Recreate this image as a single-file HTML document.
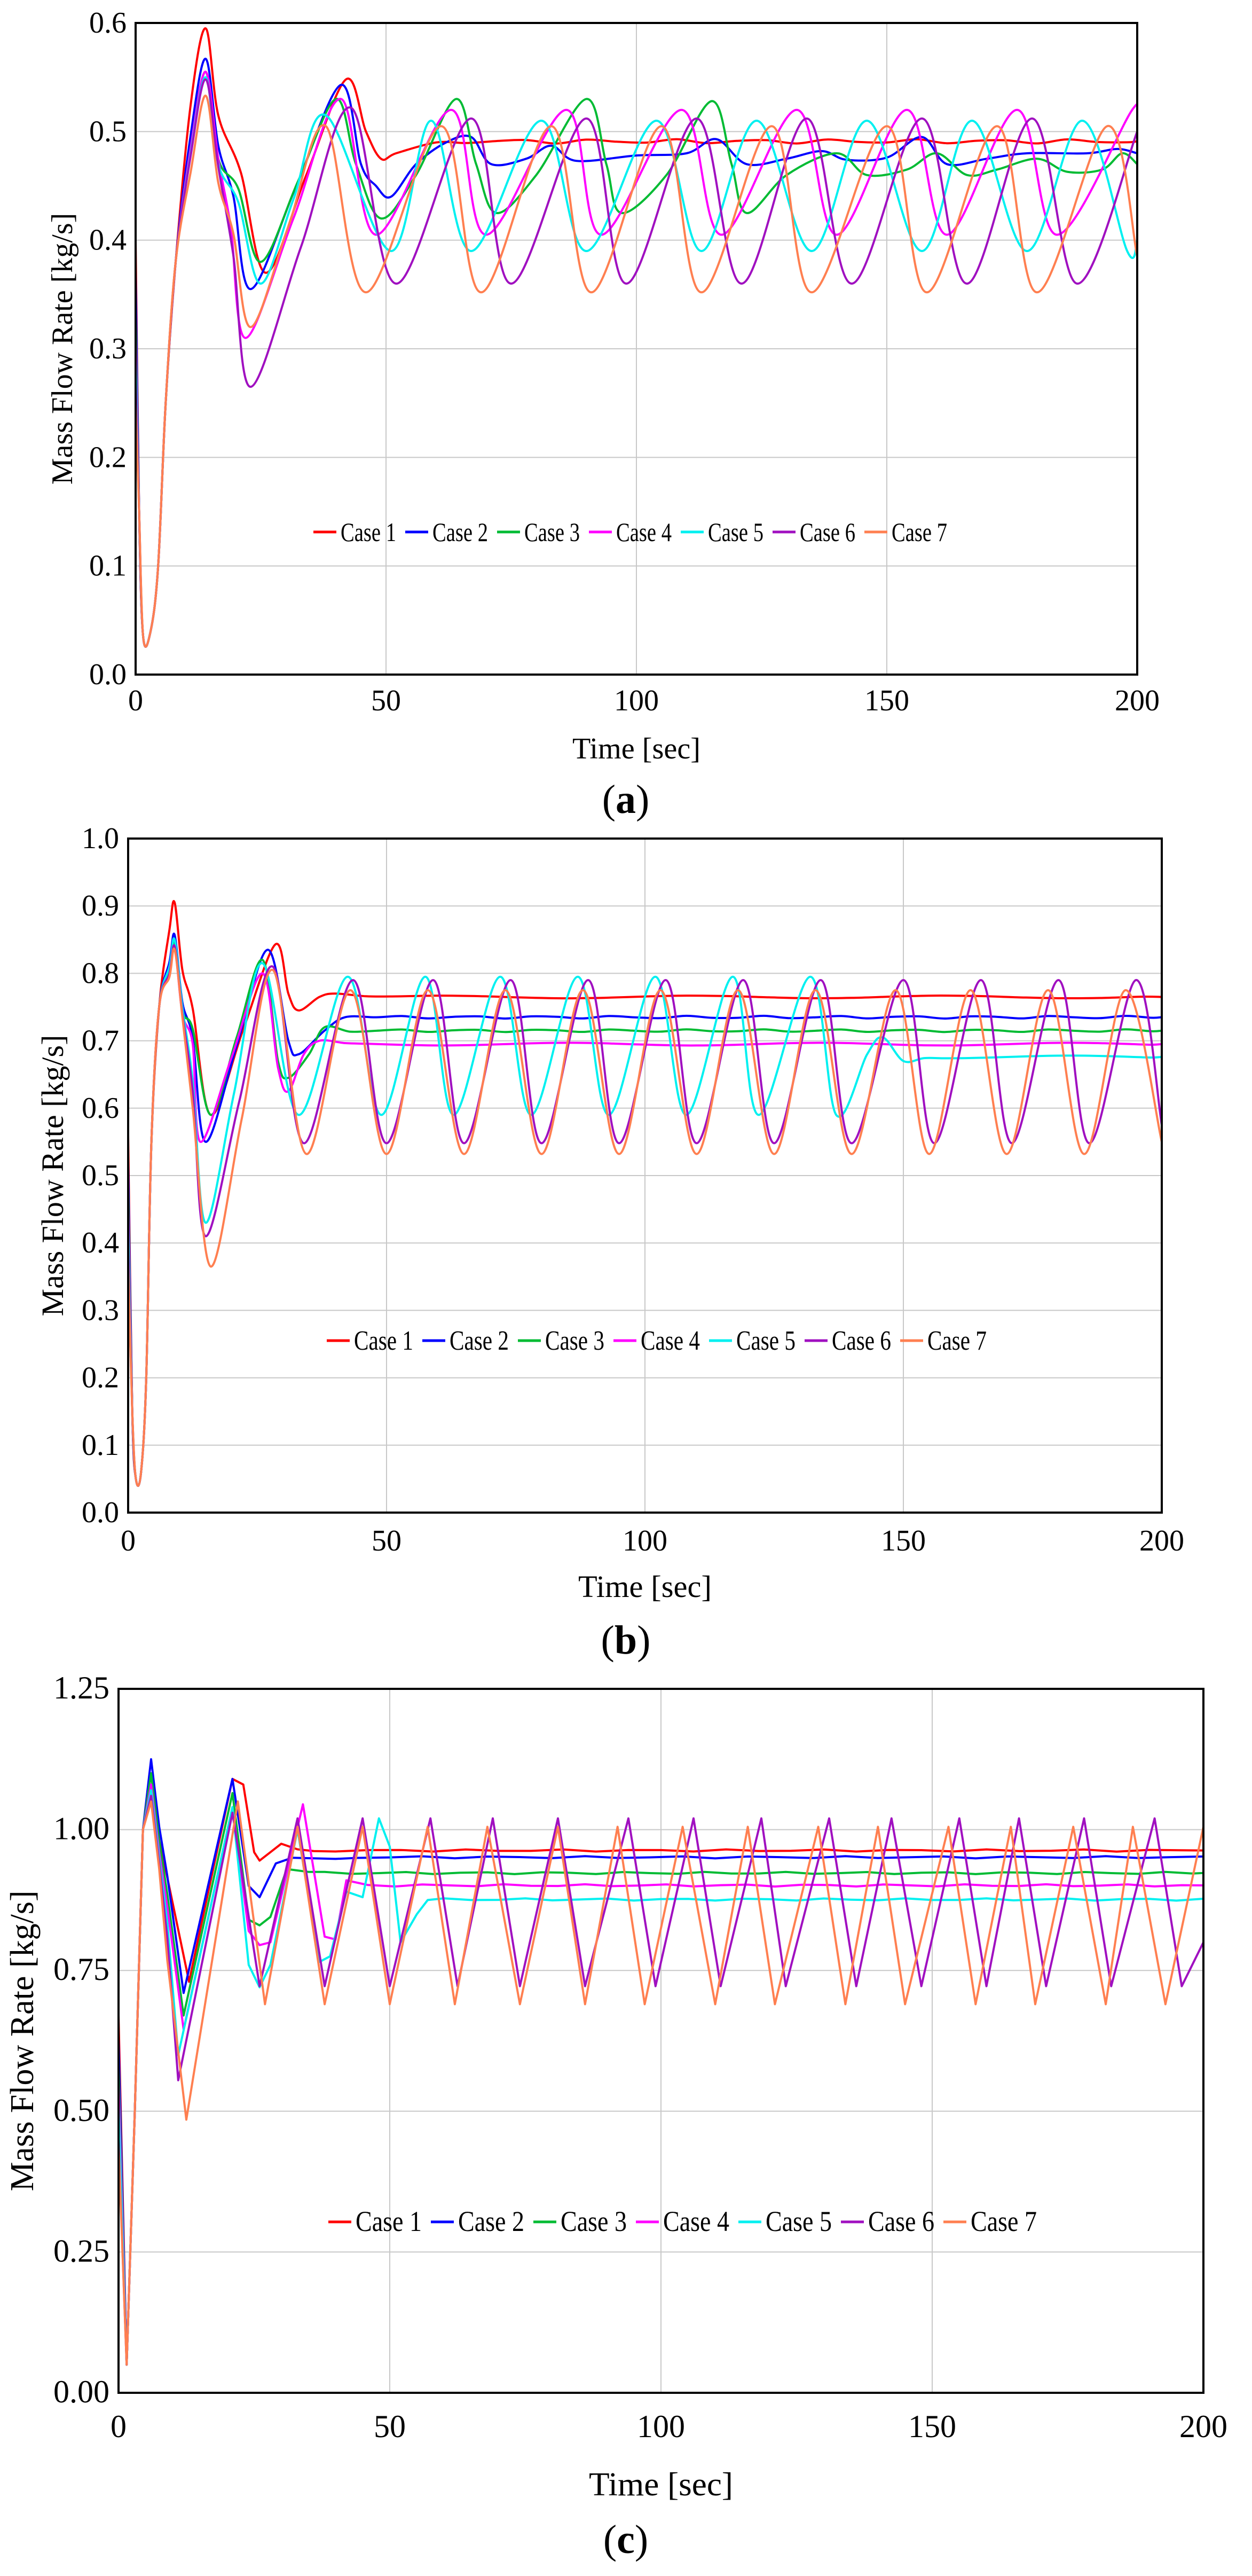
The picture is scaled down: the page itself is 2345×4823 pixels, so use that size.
<!DOCTYPE html>
<html><head><meta charset="utf-8">
<style>
html,body{margin:0;padding:0;background:#fff;}
svg{display:block;font-family:"Liberation Serif","Times New Roman",serif;}
svg text{font-family:"Liberation Serif","Times New Roman",serif;fill:#000;}
</style></head>
<body>
<svg id="s" width="2345" height="4823" viewBox="0 0 2345 4823" xmlns="http://www.w3.org/2000/svg" font-family="Liberation Serif, serif"></svg>
<script>
var S=document.getElementById('s');var NS='http://www.w3.org/2000/svg';
function el(n,a,t){var e=document.createElementNS(NS,n);for(var k in a)e.setAttribute(k,a[k]);if(n==='text')e.setAttribute('font-family','Liberation Serif, serif');if(t!==undefined)e.textContent=t;S.appendChild(e);return e;}
var COL=['#ff0000','#0000ff','#00bb33','#ff00ff','#00f0f0','#a010c0','#ff7f50'];
function stA(init,p1,d1,td1,p2,tp2){return [[0,init],[0.7,0.15],[1.5,0.035],[3,0.04],[4.5,0.1],[6,0.25],[8,0.38],[11,p1-0.07],[14,p1],[16.5,p1-0.08],[(14+td1)/2+1,(p1+d1)/2-0.02],[td1,d1],[(td1+tp2)/2,(d1+p2)/2],[tp2,p2]];}
function stB(init,p1,d1,td1,p2,tp2){return [[0,init],[0.8,0.15],[1.5,0.05],[2.5,0.06],[3.5,0.2],[4.5,0.55],[6,0.75],[8,p1-0.04],[9,p1],[10.5,p1-0.1],[12.5,(p1+d1)/2],[td1,d1],[(td1+tp2)/2,(d1+p2)/2],[tp2,p2]];}
function stC(init,p1,d1,td1,p2,tp2){return [[0,init],[1.5,0.05],[3,0.5],[4.5,1.0],[6,p1],[7.5,p1-0.12],[9,(p1+d1)/2],[td1,d1],[(td1+tp2)/2,(d1+p2)/2],[tp2,p2]];}
function osc(pk,tr,vp,vt){var all=[];pk.forEach(function(t){all.push([t,vp]);});tr.forEach(function(t){all.push([t,vt]);});all.sort(function(x,y){return x[0]-y[0];});return all;}
function flat(t0,v,n){var a=[];for(var t=t0;t<=200;t+=n){a.push([t,v+(Math.sin(t*1.7)*0.002)]);}if(a[a.length-1][0]<200)a.push([200,v]);return a;}

var A=[
 stA(0.4,0.595,0.37,26,0.548,42).concat([[46,0.5],[49,0.475],[52,0.48],[60,0.49]],flat(66,0.491,6)),
 stA(0.37,0.567,0.355,23,0.543,41).concat([[45,0.47],[48,0.45],[51,0.44],[56,0.47],[62,0.49],[67,0.495],[71,0.47],[78,0.475],[83,0.487],[88,0.473],[100,0.478],[110,0.48],[116,0.493],[122,0.47],[130,0.475],[137,0.482],[142,0.474],[150,0.476],[157,0.495],[162,0.47],[170,0.475],[178,0.48],[190,0.48],[196,0.484],[200,0.48]]),
 stA(0.33,0.555,0.38,25,0.53,40).concat([[44,0.47],[49,0.42],[56,0.46],[64,0.53],[68,0.47],[72,0.425],[80,0.46],[90,0.53],[94,0.47],[97,0.425],[106,0.46],[115,0.528],[119,0.47],[122,0.425],[130,0.46],[140,0.48],[146,0.46],[154,0.465],[160,0.48],[166,0.46],[172,0.465],[180,0.475],[186,0.463],[193,0.465],[197,0.48],[200,0.47]]),
 stA(0.31,0.555,0.31,22,0.53,41).concat(osc([63,86,109,132,154,176,199],[48,70,93,117,140,162,184],0.52,0.405),[[200,0.51]]),
 stA(0.29,0.55,0.36,25,0.515,38).concat(osc([59,81,104,124,146,167,189],[51,67,90,113,135,157,178,198],0.51,0.39),[[200,0.4]]),
 stA(0.27,0.548,0.265,23,0.522,43).concat(osc([67,90,112,134,157,179],[52,75,98,121,143,166,188],0.512,0.36),[[200,0.5]]),
 stA(0.25,0.533,0.32,23,0.505,38).concat(osc([61,83,105,127,150,172,194],[46,69,91,113,135,158,180],0.505,0.352),[[200,0.385]])
];
var B=[
 stB(0.56,0.905,0.59,16,0.843,28.5).concat([[31,0.77],[33,0.745],[37,0.765],[40,0.77],[46,0.766]],flat(52,0.765,8)),
 stB(0.52,0.857,0.55,15,0.835,27).concat([[31,0.7],[33,0.68],[38,0.715],[42,0.735]],flat(48,0.735,5)),
 stB(0.48,0.845,0.59,16,0.82,26).concat([[29,0.67],[31,0.645],[35,0.68],[38,0.72]],flat(43,0.715,5)),
 stB(0.45,0.84,0.55,14,0.8,26).concat([[29,0.66],[31,0.625],[34,0.68],[37,0.7]],flat(42,0.695,4)),
 stB(0.42,0.85,0.43,15,0.815,26).concat(osc([42.5,57.5,72,87,102,117,132],[33,49,63,78,93,108,122,137],0.795,0.59),[[143,0.68],[146,0.705],[150,0.67]],flat(154,0.676,4)),
 stB(0.39,0.84,0.41,15,0.81,28).concat(osc([43.5,59,74,89,104,119,134,150,165,180,195],[34,50,65,80,95,110,125,140,156,171,186],0.79,0.548),[[200,0.575]]),
 stB(0.37,0.835,0.365,16,0.805,28).concat(osc([43,58,73,88,103,118,133,148.5,163,178,193],[34.5,50,65,80,95,110,125,140,155,170,185],0.775,0.532),[[200,0.55]])
];
var C=[
 stC(0.67,1.1,0.73,13,1.09,21).concat([[23,1.08],[25,0.96],[26,0.945],[30,0.975],[33,0.965],[36,0.962]],flat(40,0.963,6)),
 stC(0.63,1.125,0.71,12,1.09,21).concat([[24,0.9],[26,0.88],[29,0.94],[32,0.95],[40,0.948]],flat(44,0.951,6)),
 stC(0.58,1.1,0.67,12,1.065,21).concat([[24,0.84],[26,0.83],[28,0.845],[31,0.93],[35,0.925]],flat(38,0.923,5)),
 stC(0.55,1.08,0.645,12,1.04,21).concat([[24,0.82],[26,0.795],[28,0.8],[34,1.045],[38,0.81],[40,0.805],[42,0.91]],flat(46,0.901,5)),
 stC(0.51,1.07,0.6,11,1.04,21).concat([[24,0.76],[26,0.72],[28,0.76],[33,1.0],[37,0.765],[39,0.775],[42,0.89],[45,0.88],[48,1.02],[50,0.97],[52,0.8],[55,0.85],[57,0.875]],flat(60,0.876,5)),
 stC(0.45,1.06,0.555,11,1.03,21).concat(osc([33,45,57.5,69,81,94,106,118.5,131,142.5,155,166,178,191],[26,38,50,62.5,74,86,99,111,123,136,148,160,171,183,196],1.02,0.722),[[200,0.8]]),
 stC(0.44,1.05,0.485,12.5,1.05,22).concat(osc([33,45,57,68,81,92,104,116,129,140,153,164.5,176,187,200],[27,38,50,62,74,86,97,110,121,134,145,158,169,182,193],1.005,0.69))
];
function sm(p){var d='M'+p[0][0].toFixed(1)+','+p[0][1].toFixed(1);for(var i=0;i<p.length-1;i++){var p0=p[i>0?i-1:i],p1=p[i],p2=p[i+1],p3=p[i+2<p.length?i+2:i+1];var c1x=p1[0]+(p2[0]-p0[0])/6,c1y=p1[1]+(p2[1]-p0[1])/6,c2x=p2[0]-(p3[0]-p1[0])/6,c2y=p2[1]-(p3[1]-p1[1])/6;d+=' C'+c1x.toFixed(1)+','+c1y.toFixed(1)+' '+c2x.toFixed(1)+','+c2y.toFixed(1)+' '+p2[0].toFixed(1)+','+p2[1].toFixed(1);}return d;}
function ln(p){return 'M'+p.map(function(q){return q[0].toFixed(1)+','+q[1].toFixed(1);}).join(' L');}
function chart(c){
 var X=function(t){return c.x0+(c.x1-c.x0)*t/200;},Y=function(v){return c.yB-(c.yB-c.yT)*v/c.ymax;};
 el('clipPath',{id:c.id}).appendChild((function(){var r=document.createElementNS(NS,'rect');r.setAttribute('x',c.x0);r.setAttribute('y',c.yT);r.setAttribute('width',c.x1-c.x0);r.setAttribute('height',c.yB-c.yT);return r;})());
 for(var i=1;i<4;i++)el('line',{x1:X(i*50),x2:X(i*50),y1:c.yT,y2:c.yB,stroke:'#c8c8c8','stroke-width':2});
 for(var v=c.step;v<c.ymax-1e-6;v+=c.step)el('line',{x1:c.x0,x2:c.x1,y1:Y(v),y2:Y(v),stroke:'#c8c8c8','stroke-width':2});
 for(var v=0;v<=c.ymax+1e-6;v+=c.step)el('text',{x:c.x0-17,y:Y(v)+18,'text-anchor':'end','font-size':c.fs},v.toFixed(c.dec));
 for(var i=0;i<5;i++)el('text',{x:X(i*50),y:c.xty,'text-anchor':'middle','font-size':c.fs},String(i*50));
 c.data.forEach(function(d,k){var p=d.map(function(q){return [X(q[0]),Y(q[1])];});el('path',{d:c.lin?ln(p):sm(p),fill:'none',stroke:COL[k],'stroke-width':4,'stroke-linejoin':'round','clip-path':'url(#'+c.id+')'});});
 el('rect',{x:c.x0,y:c.yT,width:c.x1-c.x0,height:c.yB-c.yT,fill:'none',stroke:'#000','stroke-width':4});
 for(var k=0;k<7;k++){var lx=c.lx+k*c.ls;el('line',{x1:lx,x2:lx+43,y1:c.ly,y2:c.ly,stroke:COL[k],'stroke-width':5});el('text',{x:lx+51,y:c.ly+17,'font-size':c.lf,textLength:c.ls-68,lengthAdjust:'spacingAndGlyphs'},'Case '+(k+1));}
 el('text',{x:(c.x0+c.x1)/2,y:c.tty,'text-anchor':'middle','font-size':c.tf,textLength:c.tw,lengthAdjust:'spacingAndGlyphs'},'Time [sec]');
 var yc=(c.yT+c.yB)/2;el('text',{x:c.ytx,y:yc,'text-anchor':'middle','font-size':c.tf,transform:'rotate(-90 '+c.ytx+' '+yc+')'},'Mass Flow Rate [kg/s]');
 var t=el('text',{x:1172,y:c.ly2,'text-anchor':'middle','font-size':76},'(');var s=document.createElementNS(NS,'tspan');s.setAttribute('font-weight','bold');s.textContent=c.lab;t.appendChild(s);t.appendChild(document.createTextNode(')'));
}
chart({id:'ca',x0:254,x1:2130,yT:43,yB:1263,ymax:0.6,step:0.1,dec:1,fs:56,xty:1330,data:A,lx:587,ls:172,ly:996,lf:50,tty:1420,tf:56,tw:240,ytx:135,ly2:1522,lab:'a'});
chart({id:'cb',x0:240,x1:2176,yT:1570,yB:2832,ymax:1.0,step:0.1,dec:1,fs:56,xty:2903,data:B,lx:612,ls:179,ly:2510,lf:52,tty:2990,tf:58,tw:250,ytx:118,ly2:3096,lab:'b'});
chart({id:'cc',x0:222,x1:2254,yT:3162,yB:4480,ymax:1.25,step:0.25,dec:2,fs:60,xty:4563,data:C,lin:true,lx:615,ls:192,ly:4160,lf:54,tty:4672,tf:62,tw:270,ytx:62,ly2:4780,lab:'c'});
</script>
</body></html>
